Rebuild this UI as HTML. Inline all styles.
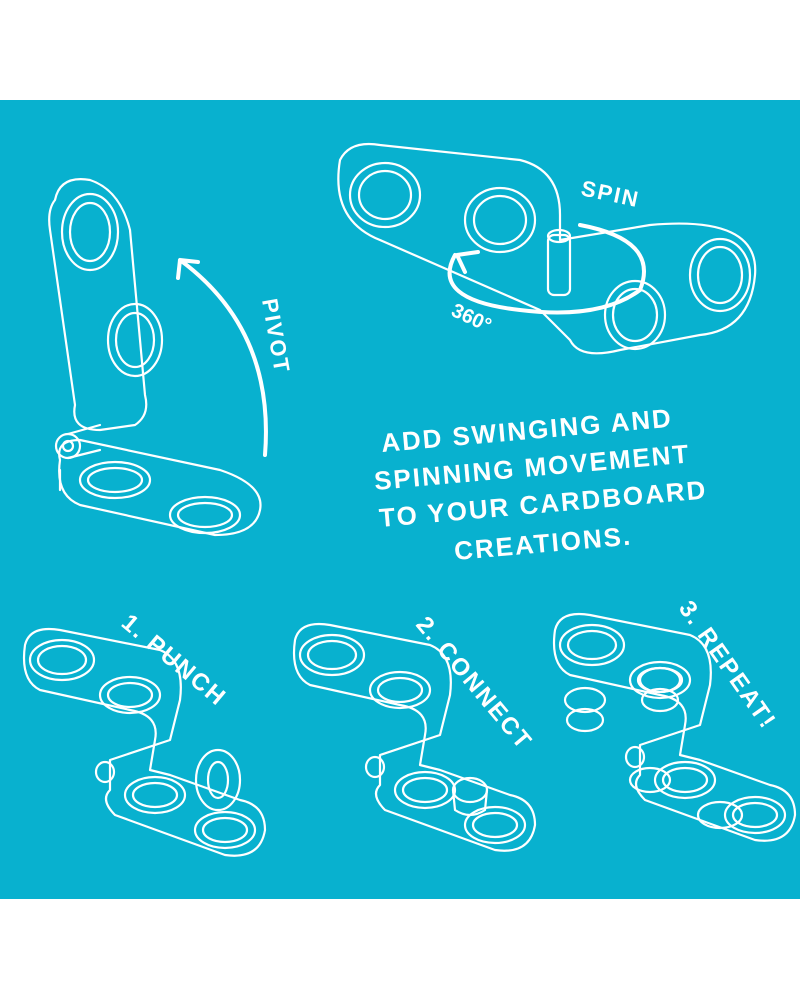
<!DOCTYPE html>
<html><head><style>
html,body{margin:0;padding:0;background:#fff;width:800px;height:1000px;overflow:hidden}
svg{display:block}
text{font-family:"Liberation Sans",sans-serif;fill:#fff;font-weight:bold}
</style></head><body>
<svg width="800" height="1000" viewBox="0 0 800 1000">
<rect x="0" y="100" width="800" height="799" fill="#08b1cf"/>
<g fill="none" stroke="#fff" stroke-width="2.2" stroke-linecap="round" stroke-linejoin="round">
<!-- pivot piece -->
<path d="M55 200 Q60 175 90 180 Q120 190 130 230 L145 395 Q150 415 135 425 L100 430 Q70 430 75 405 L50 230 Q47 210 55 200Z"/>
<ellipse cx="90" cy="232" rx="28" ry="38"/><ellipse cx="90" cy="232" rx="20" ry="29"/>
<ellipse cx="135" cy="340" rx="27" ry="36"/><ellipse cx="135" cy="340" rx="19" ry="27"/>
<path d="M60 460 Q55 440 80 440 L220 470 Q265 485 260 510 Q255 535 215 535 L80 505 Q55 495 60 460Z"/>
<path d="M60 470 L60 490"/>
<ellipse cx="115" cy="480" rx="35" ry="18"/><ellipse cx="115" cy="480" rx="27" ry="12"/>
<ellipse cx="205" cy="515" rx="35" ry="18"/><ellipse cx="205" cy="515" rx="27" ry="12"/>
<ellipse cx="68" cy="446" rx="12" ry="12"/><ellipse cx="68" cy="446" rx="5" ry="5"/>
<path d="M68 434 L100 425 M68 458 L100 450"/>
<path d="M265 455 Q275 330 180 260 M180 260 L178 278 M180 260 L198 262" stroke-width="4"/>
<!-- spin piece -->
<path d="M340 160 Q350 140 380 145 L520 160 Q560 170 560 215 L560 240 L650 225 Q760 215 755 275 Q750 330 700 335 L620 350 Q580 360 570 340 L540 310 L380 240 Q330 220 340 160Z"/>
<ellipse cx="385" cy="195" rx="35" ry="32"/><ellipse cx="385" cy="195" rx="26" ry="24"/>
<ellipse cx="500" cy="220" rx="35" ry="32"/><ellipse cx="500" cy="220" rx="26" ry="24"/>
<ellipse cx="720" cy="275" rx="30" ry="36"/><ellipse cx="720" cy="275" rx="22" ry="28"/>
<ellipse cx="635" cy="315" rx="30" ry="34"/><ellipse cx="635" cy="315" rx="22" ry="26"/>
<rect x="548" y="235" width="22" height="60" rx="6"/><ellipse cx="559" cy="236" rx="11" ry="6"/>
<path d="M580 225 Q660 240 640 290 Q600 320 520 310 Q430 300 455 255 M478 252 L457 255 L465 272" stroke-width="4"/>
<!-- step pieces -->
<g id="s">
<path d="M25 645 Q30 625 60 630 L160 650 Q185 660 180 700 L170 740 L110 760 L110 790 Q100 800 115 815 L225 855 Q260 860 265 830 Q265 805 240 800 L170 775 L150 770 L155 740 Q160 715 130 710 L40 690 Q20 680 25 645Z"/>
<ellipse cx="62" cy="660" rx="32" ry="20"/><ellipse cx="62" cy="660" rx="24" ry="14"/>
<ellipse cx="130" cy="695" rx="30" ry="18"/><ellipse cx="130" cy="695" rx="22" ry="12"/>
<ellipse cx="155" cy="795" rx="30" ry="18"/><ellipse cx="155" cy="795" rx="22" ry="12"/>
<ellipse cx="225" cy="830" rx="30" ry="18"/><ellipse cx="225" cy="830" rx="22" ry="12"/>
<ellipse cx="105" cy="772" rx="9" ry="10"/>
</g>
<use href="#s" x="270" y="-5"/>
<use href="#s" x="530" y="-15"/>
<ellipse cx="218" cy="780" rx="22" ry="30"/><ellipse cx="218" cy="780" rx="10" ry="18"/>
<ellipse cx="470" cy="790" rx="17" ry="12"/><path d="M453 790 L455 810 Q470 820 485 810 L487 790"/>
<ellipse cx="585" cy="700" rx="20" ry="12"/><ellipse cx="585" cy="720" rx="18" ry="11"/>
<ellipse cx="660" cy="680" rx="20" ry="12"/><ellipse cx="660" cy="700" rx="18" ry="11"/>
<ellipse cx="720" cy="815" rx="22" ry="13"/><ellipse cx="650" cy="780" rx="20" ry="12"/>
</g>
<text x="262" y="300" font-size="22" transform="rotate(80 262 300)" letter-spacing="2">PIVOT</text>
<text x="580" y="195" font-size="22" transform="rotate(12 580 195)" letter-spacing="2">SPIN</text>
<text x="450" y="315" font-size="20" transform="rotate(25 450 315)">360°</text>
<g font-size="26" letter-spacing="2">
<text x="382" y="452" transform="rotate(-5 382 452)">ADD SWINGING AND</text>
<text x="375" y="490" transform="rotate(-5 375 490)">SPINNING MOVEMENT</text>
<text x="380" y="527" transform="rotate(-5 380 527)">TO YOUR CARDBOARD</text>
<text x="455" y="560" transform="rotate(-5 455 560)">CREATIONS.</text>
</g>
<text x="120" y="625" font-size="24" transform="rotate(40 120 625)" letter-spacing="2">1. PUNCH</text>
<text x="415" y="625" font-size="24" transform="rotate(50 415 625)" letter-spacing="2">2. CONNECT</text>
<text x="678" y="608" font-size="24" transform="rotate(55 678 608)" letter-spacing="2">3. REPEAT!</text>
</svg>
</body></html>
